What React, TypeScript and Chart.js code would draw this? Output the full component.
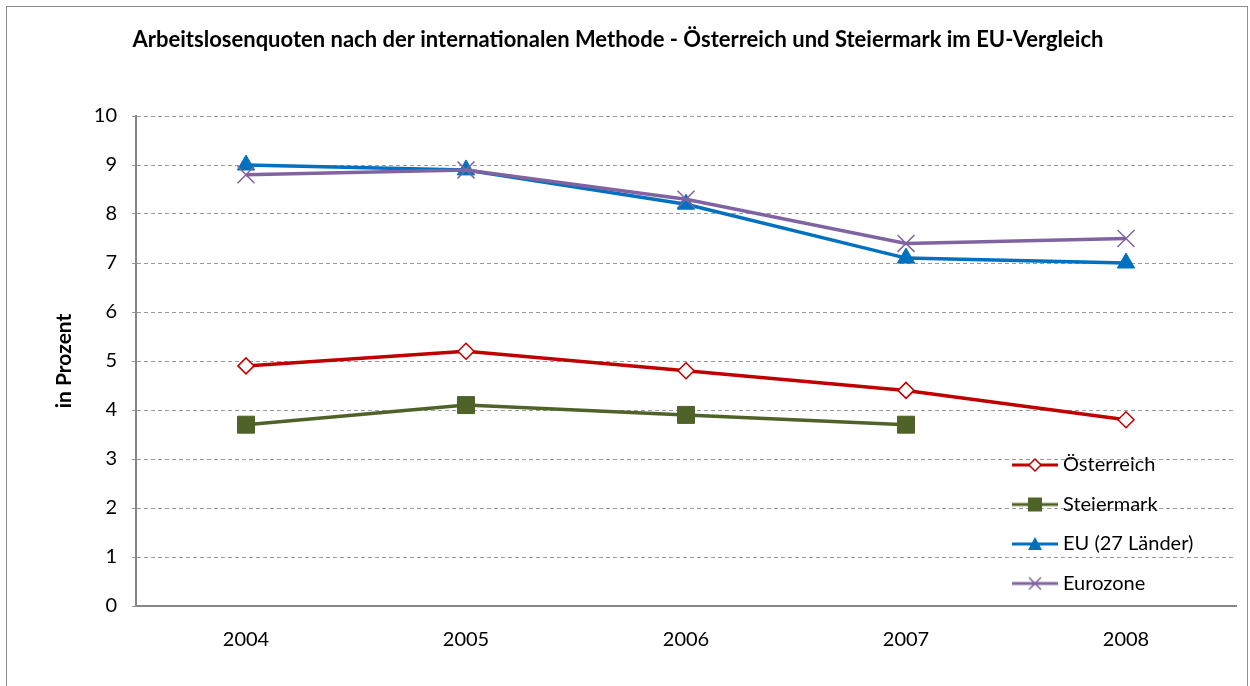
import React, { useEffect, useRef } from 'react';
import { Chart, registerables } from 'chart.js';

Chart.register(...registerables);

// ---- data ----
const YEARS = ['2004', '2005', '2006', '2007', '2008'];
const OESTERREICH = [4.9, 5.2, 4.8, 4.4, 3.8];
const STEIERMARK = [3.7, 4.1, 3.9, 3.7, null];
const EU27 = [9.0, 8.9, 8.2, 7.1, 7.0];
const EUROZONE = [8.8, 8.9, 8.3, 7.4, 7.5];
const SERIES_NAMES = ['Österreich', 'Steiermark', 'EU (27 Länder)', 'Eurozone'];
const TITLE = 'Arbeitslosenquoten nach der internationalen Methode - Österreich und Steiermark im EU-Vergleich';
const Y_TITLE = 'in Prozent';
const Y_MIN = 0;
const Y_MAX = 10;
const Y_STEP = 1;

// ---- styles ----
const FONT = 'Lato';
const C_RED = '#C00000';
const C_GREEN = '#4F6228';
const C_BLUE = '#0070C0';
const C_PURPLE = '#8064A2';
const AXIS_GRAY = '#868686';
const GRID_GRAY = '#9a9a9a';

const LEG_FONT = 20;
const LEG_PAD = 19.5;
const LEG_LEFT = 997.5;
const LEG_TOP = 435.5;

function makeIcon(color: string, marker: string): HTMLCanvasElement {
  const c = document.createElement('canvas');
  c.width = 46;
  c.height = 20;
  const ctx = c.getContext('2d')!;
  const cx = 23;
  const cy = 10;
  ctx.strokeStyle = color;
  ctx.lineWidth = 3;
  ctx.beginPath();
  ctx.moveTo(0, cy);
  ctx.lineTo(46, cy);
  ctx.stroke();
  ctx.lineWidth = 1.5;
  if (marker === 'diamond') {
    const r = 6;
    ctx.beginPath();
    ctx.moveTo(cx, cy - r);
    ctx.lineTo(cx + r, cy);
    ctx.lineTo(cx, cy + r);
    ctx.lineTo(cx - r, cy);
    ctx.closePath();
    ctx.fillStyle = '#ffffff';
    ctx.fill();
    ctx.stroke();
  } else if (marker === 'square') {
    ctx.fillStyle = color;
    ctx.fillRect(cx - 7, cy - 7, 14, 14);
  } else if (marker === 'triangle') {
    ctx.fillStyle = color;
    ctx.beginPath();
    ctx.moveTo(cx, cy - 7);
    ctx.lineTo(cx + 7, cy + 6);
    ctx.lineTo(cx - 7, cy + 6);
    ctx.closePath();
    ctx.fill();
  } else if (marker === 'cross') {
    const r = 6;
    ctx.beginPath();
    ctx.moveTo(cx - r, cy - r);
    ctx.lineTo(cx + r, cy + r);
    ctx.moveTo(cx + r, cy - r);
    ctx.lineTo(cx - r, cy + r);
    ctx.stroke();
  }
  return c;
}

export default function App() {
  const ref = useRef<HTMLCanvasElement | null>(null);

  useEffect(() => {
    if (!ref.current) return;
    const icons = [
      makeIcon(C_RED, 'diamond'),
      makeIcon(C_GREEN, 'square'),
      makeIcon(C_BLUE, 'triangle'),
      makeIcon(C_PURPLE, 'cross'),
    ];

    const legendPlacer = {
      id: 'legendPlacer',
      afterLayout(chart: any) {
        const lg = chart.legend;
        if (!lg) return;
        const w = lg.width;
        const h = lg.height;
        lg.left = LEG_LEFT;
        lg.top = LEG_TOP;
        lg.right = LEG_LEFT + w;
        lg.bottom = LEG_TOP + h;
      },
    };

    const chart = new Chart(ref.current, {
      type: 'line',
      data: {
        labels: YEARS,
        datasets: [
          {
            label: SERIES_NAMES[0],
            data: OESTERREICH,
            borderColor: C_RED,
            backgroundColor: '#ffffff',
            borderWidth: 3.5,
            pointStyle: 'rectRot',
            pointRadius: 8,
            pointBorderWidth: 1.5,
            pointBackgroundColor: '#ffffff',
            pointBorderColor: C_RED,
            tension: 0,
            order: 3,
          },
          {
            label: SERIES_NAMES[1],
            data: STEIERMARK,
            borderColor: C_GREEN,
            backgroundColor: C_GREEN,
            borderWidth: 3.5,
            pointStyle: 'rect',
            pointRadius: 12,
            pointBorderWidth: 1,
            pointBackgroundColor: C_GREEN,
            pointBorderColor: C_GREEN,
            tension: 0,
            spanGaps: false,
            order: 2,
          },
          {
            label: SERIES_NAMES[2],
            data: EU27,
            borderColor: C_BLUE,
            backgroundColor: C_BLUE,
            borderWidth: 3.5,
            pointStyle: 'triangle',
            pointRadius: 10,
            pointBorderWidth: 1,
            pointBackgroundColor: C_BLUE,
            pointBorderColor: C_BLUE,
            tension: 0,
            order: 1,
          },
          {
            label: SERIES_NAMES[3],
            data: EUROZONE,
            borderColor: C_PURPLE,
            backgroundColor: C_PURPLE,
            borderWidth: 3.5,
            pointStyle: 'crossRot',
            pointRadius: 12,
            pointBorderWidth: 1.5,
            pointBackgroundColor: C_PURPLE,
            pointBorderColor: C_PURPLE,
            tension: 0,
            order: 0,
          },
        ],
      },
      options: {
        animation: false,
        responsive: false,
        events: [],
        layout: { padding: { left: 0, right: 14, top: 0, bottom: 0 } },
        plugins: {
          tooltip: { enabled: false },
          title: {
            display: true,
            text: TITLE,
            color: '#000000',
            font: { family: FONT, size: 22, weight: 'bold' },
            padding: { top: 27, bottom: 62.6 },
          },
          legend: {
            display: true,
            position: 'chartArea' as any,
            align: 'start',
            labels: {
              usePointStyle: true,
              pointStyleWidth: 36,
              padding: LEG_PAD,
              color: '#000000',
              font: { family: FONT, size: LEG_FONT },
              sort: (a: any, b: any) => a.datasetIndex - b.datasetIndex,
              generateLabels: (ch: any) => {
                const base = (Chart.defaults.plugins.legend.labels as any).generateLabels(ch);
                return base.map((it: any) => ({ ...it, pointStyle: icons[it.datasetIndex], rotation: 0 }));
              },
            },
          },
        },
        scales: {
          x: {
            type: 'category',
            offset: true,
            grid: { display: false, drawTicks: false },
            border: { display: true, color: AXIS_GRAY, width: 2 },
            ticks: {
              color: '#000000',
              font: { family: FONT, size: 20 },
              padding: 22,
              maxRotation: 0,
            },
            afterFit: (scale: any) => {
              scale.height = 80;
            },
          },
          y: {
            type: 'linear',
            min: Y_MIN,
            max: Y_MAX,
            ticks: {
              stepSize: Y_STEP,
              color: '#000000',
              font: { family: FONT, size: 20 },
              padding: 15,
            },
            grid: {
              color: GRID_GRAY,
              lineWidth: 1,
              drawTicks: true,
              tickLength: 4,
              tickColor: GRID_GRAY,
            },
            border: { display: true, color: AXIS_GRAY, width: 2, dash: [4, 3] },
            title: {
              display: true,
              text: Y_TITLE,
              color: '#000000',
              font: { family: FONT, size: 21, weight: 'bold' },
              padding: { top: 52, bottom: 0 },
            },
            afterFit: (scale: any) => {
              scale.width = 136;
            },
          },
        },
      },
      plugins: [legendPlacer],
    } as any);

    return () => {
      chart.destroy();
    };
  }, []);

  return (
    <div
      style={{
        position: 'absolute',
        left: 0,
        top: 0,
        width: 1250,
        height: 686,
        background: '#ffffff',
        overflow: 'hidden',
      }}
    >
      <div
        style={{
          position: 'absolute',
          left: 6,
          top: 6,
          width: 1242,
          height: 720,
          border: '1px solid #8c8c8c',
          boxSizing: 'border-box',
        }}
      />
      <canvas
        ref={ref}
        width={1250}
        height={686}
        style={{ position: 'absolute', left: 0, top: 0, width: 1250, height: 686 }}
      />
    </div>
  );
}
